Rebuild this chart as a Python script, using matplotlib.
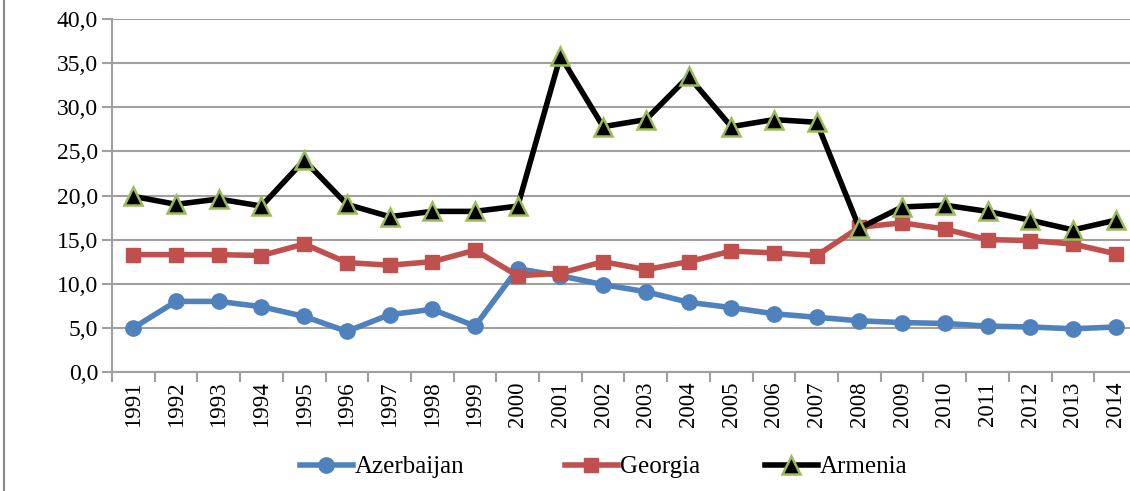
import matplotlib
matplotlib.use("Agg")
import matplotlib.pyplot as plt
from matplotlib.patches import Rectangle

years = [str(y) for y in range(1991, 2015)]
azerbaijan = [5.0, 8.0, 8.0, 7.4, 6.3, 4.6, 6.5, 7.1, 5.2, 11.7, 10.9, 9.9, 9.1, 7.9,
              7.3, 6.6, 6.2, 5.8, 5.6, 5.5, 5.2, 5.1, 4.9, 5.1]
georgia = [13.3, 13.3, 13.3, 13.2, 14.5, 12.4, 12.1, 12.5, 13.8, 10.9, 11.2, 12.5, 11.6, 12.5,
           13.7, 13.5, 13.2, 16.4, 16.9, 16.2, 15.0, 14.9, 14.5, 13.4]
armenia = [19.9, 19.0, 19.6, 18.8, 24.0, 19.0, 17.6, 18.2, 18.2, 18.8, 35.8, 27.8, 28.6, 33.5,
           27.8, 28.6, 28.3, 16.3, 18.7, 18.9, 18.2, 17.2, 16.1, 17.2]
yticks = [0, 5, 10, 15, 20, 25, 30, 35, 40]

plt.rcParams['font.family'] = ['Liberation Serif', 'DejaVu Serif']

fig = plt.figure(figsize=(11.3, 4.91), dpi=100)
ax = fig.add_axes([112/1130, 1-372/491, (1137-112)/1130, (372-19)/491])

x = list(range(len(years)))
l1, = ax.plot(x, azerbaijan, color='#4F81BD', lw=4, marker='o', ms=11, label='Azerbaijan', zorder=3)
l2, = ax.plot(x, georgia, color='#C0504D', lw=4, marker='s', ms=10.5, label='Georgia', zorder=3)
l3, = ax.plot(x, armenia, color='black', lw=4, marker='^', ms=13, mfc='black', mec='#9BBB59',
              mew=1.8, label='Armenia', zorder=4)

ax.set_xlim(-0.5, len(years) - 0.5)
ax.set_ylim(0, 40)
ax.set_yticks(yticks)
ax.set_yticklabels([f"{v:.1f}".replace('.', ',') for v in yticks], fontsize=17)
ax.yaxis.grid(True, color='#a0a0a0', lw=1.5)
ax.set_axisbelow(True)
ax.set_xticks(x)
ax.set_xticklabels(years, rotation=90, fontsize=16.5)
ax.set_xticks([i - 0.5 for i in range(len(years) + 1)], minor=True)
ax.tick_params(axis='x', which='major', length=0, pad=7)
ax.tick_params(axis='x', which='minor', length=7, color='#a0a0a0', width=1.5)
ax.tick_params(axis='y', length=7, color='#a0a0a0', width=1.5, pad=3)
for s in ['top', 'right']:
    ax.spines[s].set_visible(False)
for s in ['left', 'bottom']:
    ax.spines[s].set_color('#a0a0a0')
    ax.spines[s].set_linewidth(1.5)

ly = 1 - 467/491
for h, xp in [(l1, 300), (l2, 565), (l3, 765)]:
    fig.legend(handles=[h], loc='center left', bbox_to_anchor=(xp/1130, ly), frameon=False,
               fontsize=18, handlelength=2.1, handletextpad=0.1, borderpad=0,
               borderaxespad=0)

fig.patches.append(Rectangle((4/1130, -0.1), 1.2, 1.2, transform=fig.transFigure,
                             fill=False, edgecolor='#888888', lw=1.5))

fig.savefig('out.png', dpi=100)
